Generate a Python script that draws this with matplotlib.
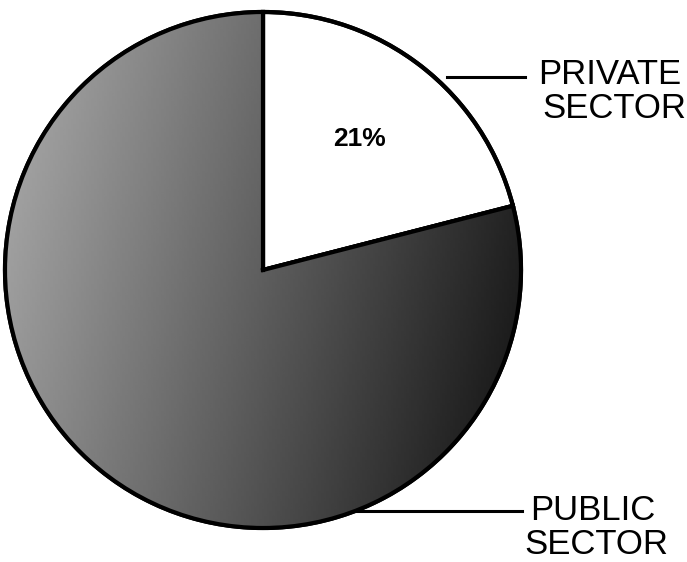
import numpy as np
import matplotlib
matplotlib.use("Agg")
import matplotlib.pyplot as plt

# data
sectors = ["PRIVATE\nSECTOR", "PUBLIC\nSECTOR"]
shares = [21, 79]
share_label = "21%"

W, H = 687, 562
cx, cy, r = 263, H - 270, 258

fig = plt.figure(figsize=(W / 100, H / 100), dpi=100)
ax = fig.add_axes([0, 0, 1, 1])

wedges, _ = ax.pie(
    shares,
    startangle=90,
    counterclock=False,
    colors=["white", "#555555"],
    radius=r,
    center=(cx, cy),
    wedgeprops=dict(edgecolor="black", linewidth=3),
)

# stippled shading of the public slice: light on the left, dark lower-right
gx, gy = np.meshgrid(np.linspace(0, 1, 200), np.linspace(0, 1, 200))
lightness = 0.68 - 0.5 * gx - 0.12 * gy
img = ax.imshow(
    lightness,
    cmap="gray",
    vmin=0,
    vmax=1,
    extent=(cx - r, cx + r, cy - r, cy + r),
    origin="upper",
    zorder=wedges[1].get_zorder() + 0.1,
)
img.set_clip_path(wedges[1])
outline = plt.Circle((cx, cy), r, fill=False, ec="black", lw=3, zorder=5)
ax.add_patch(outline)
ax.plot([cx, cx], [cy, cy + r], color="black", lw=3, zorder=5)
ang = np.deg2rad(90 - 360 * shares[0] / 100)
ax.plot([cx, cx + r * np.cos(ang)], [cy, cy + r * np.sin(ang)], color="black", lw=3, zorder=5)

ax.text(360, H - 139, share_label, ha="center", va="center",
        fontsize=19, fontweight="bold", family="Liberation Sans")

font = dict(fontsize=25, family="Liberation Sans", ha="center", va="center")
priv1, priv2 = sectors[0].split("\n")
pub1, pub2 = sectors[1].split("\n")
ax.text(610, H - 75, priv1, **font)
ax.text(614, H - 108, priv2, **font)
ax.text(593, H - 511, pub1, **font)
ax.text(596, H - 545, pub2, **font)

ax.plot([447, 525], [H - 77, H - 77], color="black", lw=2.2)
ax.plot([355, 522], [H - 511, H - 511], color="black", lw=2.2)

ax.set_xlim(0, W)
ax.set_ylim(0, H)
ax.set_aspect("equal")
ax.axis("off")

fig.savefig("out.png", dpi=100)
